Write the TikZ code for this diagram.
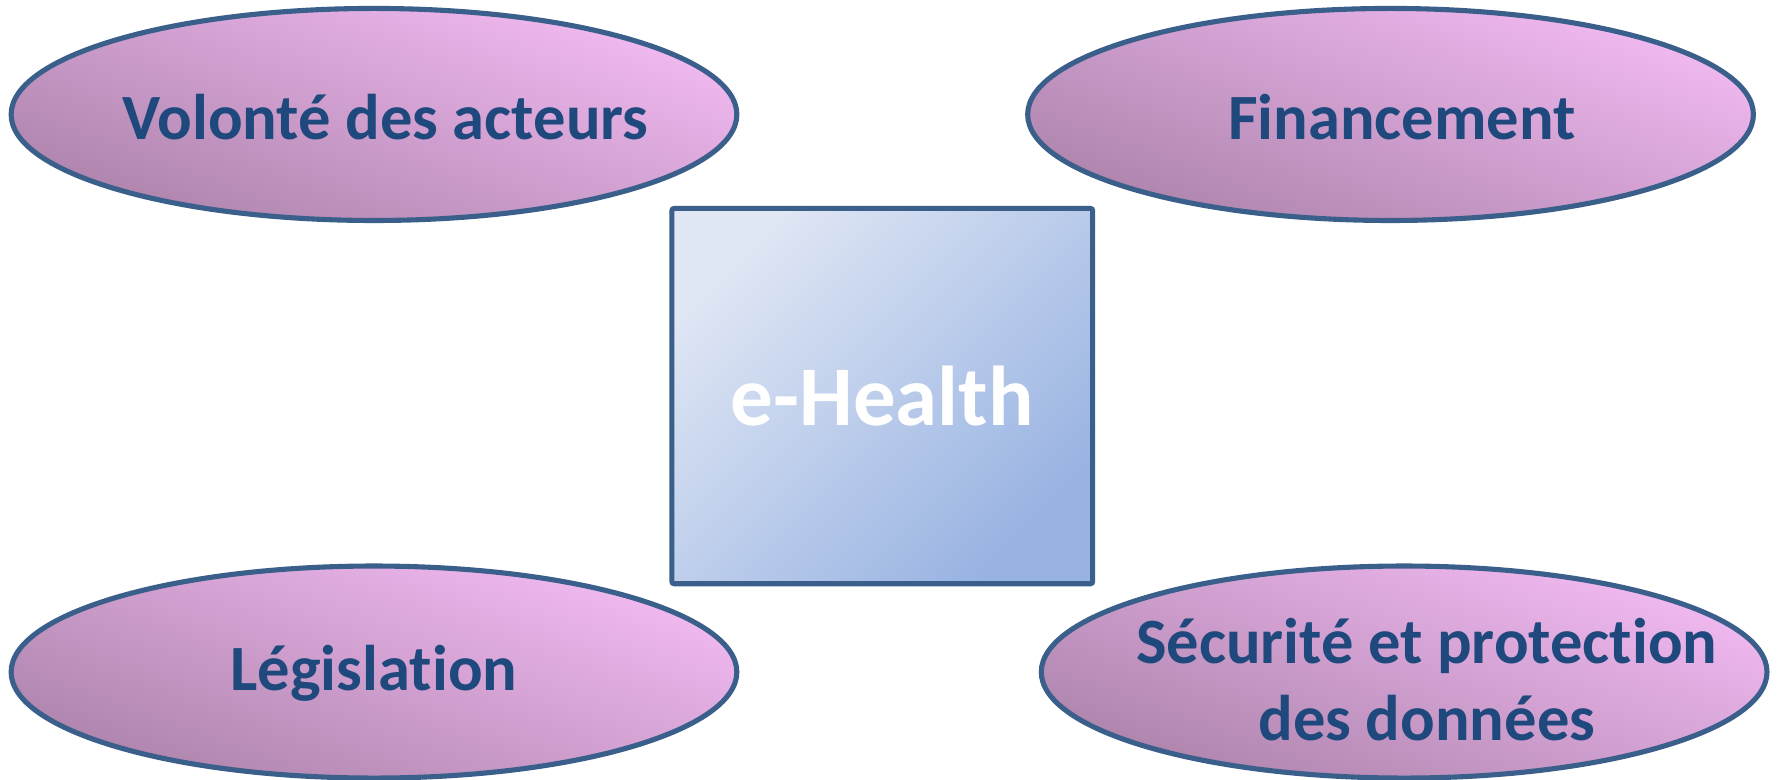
\documentclass[tikz,border=0pt]{standalone}
\usepackage{fontspec}
\setmainfont{Carlito}[Ligatures=NoCommon]
\usetikzlibrary{shapes.geometric}
\definecolor{txtblue}{HTML}{1F497D}
\definecolor{edgeblue}{HTML}{3A5F8B}
\definecolor{pinklight}{HTML}{F2BAF2}
\definecolor{pinkdark}{HTML}{AD84AC}
\definecolor{boxlight}{HTML}{DFE6F4}
\definecolor{boxdark}{HTML}{98B3E2}
\tikzset{
  oval/.style={ellipse, draw=edgeblue, line width=0.045cm, inner sep=0pt,
    minimum width=6.4cm, minimum height=1.87cm,
    top color=pinklight, bottom color=pinkdark, shading angle=-20},
  ovaltext/.style={text=txtblue, font=\fontsize{16.2}{19.3}\selectfont\bfseries, align=center, inner sep=0pt},
  centerbox/.style={rectangle, draw=edgeblue, line width=0.045cm, inner sep=0pt,
    minimum width=3.71cm, minimum height=3.31cm, rounded corners=0.02cm,
    top color=boxlight, bottom color=boxdark, shading angle=45,
    text=white, font=\fontsize{21.3}{24}\selectfont\bfseries}
}
\begin{document}
\begin{tikzpicture}[x=0.01cm,y=-0.01cm]
\useasboundingbox (0,0) rectangle (1568,687.5);
\node[oval] (vol) at (330,101) {};
\node[oval] (fin) at (1227,101) {};
\node[oval] (leg) at (330,593) {};
\node[oval] (sec) at (1239,593) {};
\node[ovaltext] (volt) at ([xshift=0.1cm,yshift=-0.02cm]vol.center) {Volonté des acteurs};
\node[ovaltext] (fint) at ([xshift=0.1cm,yshift=-0.02cm]fin.center) {Financement};
\node[ovaltext] (legt) at ([yshift=-0.01cm]leg.center) {Législation};
\node[ovaltext] (sect) at ([xshift=0.2cm,yshift=-0.07cm]sec.center) {Sécurité et protection\\des données};
\node[centerbox] (eh) at (778.5,349.5) {e-Health};
\end{tikzpicture}
\end{document}
